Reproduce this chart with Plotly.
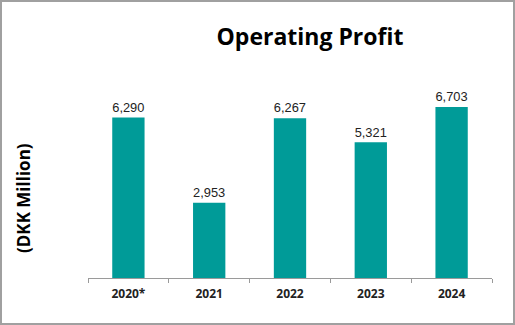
import plotly.graph_objects as go

categories = ["2020*", "2021", "2022", "2023", "2024"]
values = [6290, 2953, 6267, 5321, 6703]
value_labels = ["6,290", "2,953", "6,267", "5,321", "6,703"]

W, H = 515, 325
L, R, T, B = 88, 23, 90, 47
pw, ph = W - L - R, H - T - B

fig = go.Figure(go.Bar(
    x=categories, y=values, text=value_labels, textposition="outside",
    textfont=dict(family="Liberation Sans", size=14, color="#222222"),
    marker=dict(color="#009B98", line=dict(width=0)),
    cliponaxis=False, hoverinfo="skip",
))

def px_x(p):
    return (p - L) / pw

def px_y(p):
    return (H - B - p) / ph

fig.update_layout(
    width=W, height=H,
    margin=dict(l=L, r=R, t=T, b=B),
    paper_bgcolor="white", plot_bgcolor="white",
    bargap=0.6, showlegend=False,
    title=dict(text="<b>Operating Profit</b>", xref="container", x=310 / W, xanchor="center",
               y=1 - 37 / H, yanchor="middle",
               font=dict(family="Open Sans", size=23, color="black")),
    xaxis=dict(showline=True, linecolor="#9a9a9a", linewidth=1,
               ticks="outside", tickson="boundaries", ticklen=4, tickcolor="#9a9a9a",
               ticklabelstandoff=5,
               tickfont=dict(family="Open Sans", size=12, color="#222222"),
               tickprefix="<b>", ticksuffix="</b>"),
    yaxis=dict(range=[0, ph / 0.02551], visible=False, showgrid=False, fixedrange=True),
    shapes=[dict(type="rect", xref="paper", yref="paper",
                 x0=px_x(1), x1=px_x(514), y0=px_y(324), y1=px_y(1),
                 line=dict(color="#a0a0a0", width=2), fillcolor="rgba(0,0,0,0)",
                 layer="below")],
    annotations=[dict(text="<b>(DKK Million)</b>", xref="paper", yref="paper",
                      x=px_x(23), y=px_y(198), textangle=-90, showarrow=False,
                      xanchor="center", yanchor="middle",
                      font=dict(family="Open Sans", size=17, color="black"))],
)

fig.write_html("out.html")
